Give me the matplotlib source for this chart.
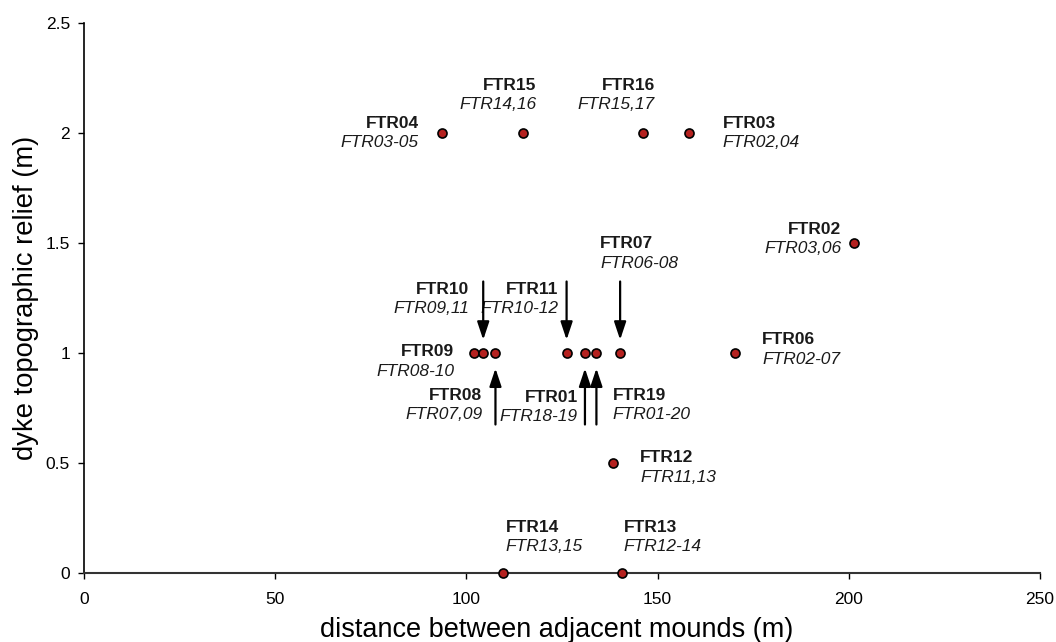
import matplotlib.pyplot as plt

# mound labels, their neighbours, and values
names = ['FTR04', 'FTR15', 'FTR16', 'FTR03', 'FTR02', 'FTR07', 'FTR06', 'FTR09',
         'FTR10', 'FTR08', 'FTR11', 'FTR01', 'FTR19', 'FTR12', 'FTR14', 'FTR13']
neighbours = ['FTR03-05', 'FTR14,16', 'FTR15,17', 'FTR02,04', 'FTR03,06', 'FTR06-08',
              'FTR02-07', 'FTR08-10', 'FTR09,11', 'FTR07,09', 'FTR10-12', 'FTR18-19',
              'FTR01-20', 'FTR11,13', 'FTR13,15', 'FTR12-14']
distance = [93.5, 114.7, 146.1, 158.1, 201.4, 140.2, 170.3, 102.1,
            104.4, 107.6, 126.2, 131.0, 134.0, 138.4, 109.7, 140.8]
relief = [2, 2, 2, 2, 1.5, 1, 1, 1, 1, 1, 1, 1, 1, 0.5, 0, 0]

# arrows pointing at crowded points (down from above / up from below)
down_arrows = ['FTR10', 'FTR11', 'FTR07']
up_arrows = ['FTR08', 'FTR01', 'FTR19']

# label placement in pixels relative to each point: (dx, dy, align)
label_pos = {
    'FTR04': (-23, 10, 'right'), 'FTR15': (14, 48, 'right'), 'FTR16': (12, 48, 'right'),
    'FTR03': (34, 10, 'left'), 'FTR02': (-13, 14, 'right'), 'FTR07': (-20, 109, 'left'),
    'FTR06': (27, 13, 'left'), 'FTR09': (-20, 1, 'right'), 'FTR10': (-14, 64, 'right'),
    'FTR08': (-13, -42, 'right'), 'FTR11': (-8, 64, 'right'), 'FTR01': (-7, -44, 'right'),
    'FTR19': (16, -42, 'left'), 'FTR12': (27, 5, 'left'), 'FTR14': (2, 46, 'left'),
    'FTR13': (1, 46, 'left'),
}

plt.rcParams['font.family'] = ['Liberation Sans', 'DejaVu Sans']

fig = plt.figure(figsize=(10.56, 6.42), dpi=100)
ax = fig.add_axes([84 / 1056, 69 / 642, 956 / 1056, 550 / 642])

ax.plot(distance, relief, 'o', ms=6.5, mfc='#b5211f', mec='black', mew=1.2,
        clip_on=False, zorder=5)

txt_color = '#1a1a1a'
for n, nb, x, y in zip(names, neighbours, distance, relief):
    dx, dy, ha = label_pos[n]
    ax.annotate(n, (x, y), xytext=(dx, dy), textcoords='offset pixels',
                ha=ha, va='center', fontsize=12.5, fontweight='bold', color=txt_color)
    ax.annotate(nb, (x, y), xytext=(dx, dy - 19.5), textcoords='offset pixels',
                ha=ha, va='center', fontsize=12.5, fontstyle='italic', color=txt_color)

arrow_props = dict(arrowstyle='-|>,head_length=0.6,head_width=0.2', color='black',
                   lw=1.6, shrinkA=0, shrinkB=0, mutation_scale=18)
for n in down_arrows:
    x = distance[names.index(n)]
    ax.annotate('', xy=(x, 1.06), xytext=(x, 1.325), arrowprops=arrow_props)
for n in up_arrows:
    x = distance[names.index(n)]
    ax.annotate('', xy=(x, 0.93), xytext=(x, 0.675), arrowprops=arrow_props)

ax.set_xlim(0, 250)
ax.set_ylim(0, 2.5)
ax.set_xticks([0, 50, 100, 150, 200, 250])
ax.set_yticks([0, 0.5, 1, 1.5, 2, 2.5])
ax.set_yticklabels(['0', '0.5', '1', '1.5', '2', '2.5'])
ax.tick_params(direction='out', length=4, width=1, labelsize=12.5, pad=6)
ax.tick_params(axis='x', pad=10)

for side in ['top', 'right']:
    ax.spines[side].set_visible(False)
ax.spines['left'].set_linewidth(1.2)
ax.spines['bottom'].set_linewidth(1.5)
ax.spines['bottom'].set_color('#333333')

ax.set_xlabel('distance between adjacent mounds (m)', fontsize=19.5)
ax.set_ylabel('dyke topographic relief (m)', fontsize=19.7)
ax.xaxis.set_label_coords(0.494, -0.08)
ax.yaxis.set_label_coords(-0.047, 0.5)

fig.savefig('out.png', dpi=100)
